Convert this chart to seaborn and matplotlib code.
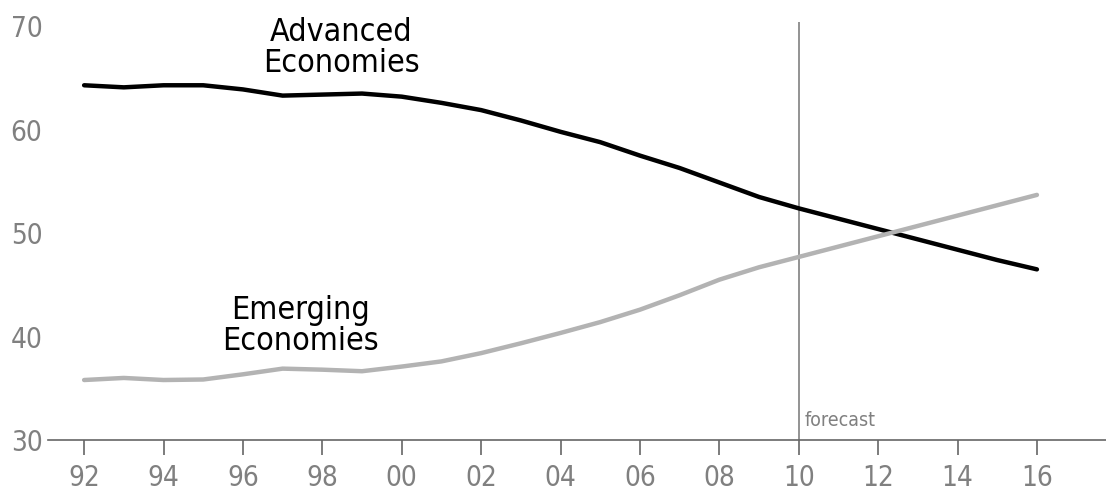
import matplotlib
matplotlib.use('Agg')
import matplotlib.pyplot as plt
import pandas as pd
import seaborn as sns

years = list(range(1992, 2017))
advanced = [64.3, 64.1, 64.3, 64.3, 63.9, 63.3, 63.4, 63.5, 63.2, 62.6, 61.9, 60.9, 59.8,
            58.8, 57.5, 56.3, 54.9, 53.5, 52.4, 51.4, 50.4, 49.4, 48.4, 47.4, 46.5]
emerging = [35.8, 36.0, 35.8, 35.85, 36.35, 36.9, 36.8, 36.65, 37.1, 37.6, 38.4, 39.35, 40.35,
            41.4, 42.6, 44.0, 45.5, 46.7, 47.7, 48.7, 49.7, 50.7, 51.7, 52.7, 53.7]
x_ticks = list(range(1992, 2017, 2))
x_labels = [f'{y % 100:02d}' for y in x_ticks]
y_ticks = [30, 40, 50, 60, 70]

df = pd.DataFrame({
    'year': years * 2,
    'share': advanced + emerging,
    'group': ['Advanced'] * len(years) + ['Emerging'] * len(years),
})

sns.set_style('white')
plt.rcParams['font.family'] = ['DejaVu Sans']
plt.rcParams['font.stretch'] = 'condensed'
plt.rcParams['text.color'] = 'black'

fig = plt.figure(figsize=(11.06, 4.92), dpi=100)
ax = fig.add_axes([0.0434, 0.1057, 0.9566, 0.8513])

sns.lineplot(data=df, x='year', y='share', hue='group',
             palette={'Advanced': '#000000', 'Emerging': '#b3b3b3'},
             linewidth=3.2, legend=False, ax=ax)
for line in ax.lines:
    line.set_solid_capstyle('round')
    line.set_solid_joinstyle('round')

# forecast divider
ax.vlines(2010, 30, 70.4, color='#808080', linewidth=1.2, zorder=1)
ax.text(2010.15, 31.9, 'forecast', color='#808080', fontsize=14, va='center', ha='left',
        stretch='condensed')

ax.text(1998.47, 67.9, 'Advanced\nEconomies', fontsize=23, ha='center', va='center',
        linespacing=1.0, stretch='condensed')
ax.text(1997.44, 41.0, 'Emerging\nEconomies', fontsize=23, ha='center', va='center',
        linespacing=1.0, stretch='condensed')

ax.set_xlim(1991.09, 2017.74)
ax.set_ylim(30, 70.5)
ax.set_xticks(x_ticks)
ax.set_xticklabels(x_labels)
ax.set_yticks(y_ticks)
ax.set_xlabel('')
ax.set_ylabel('')

for side in ['left', 'right', 'top']:
    ax.spines[side].set_visible(False)
ax.spines['bottom'].set_color('#666666')
ax.spines['bottom'].set_linewidth(1.2)
ax.tick_params(axis='x', direction='out', length=11, width=1.2, color='#666666',
               labelcolor='#808080', labelsize=20, pad=6, bottom=True)
ax.tick_params(axis='y', length=0, labelcolor='#808080', labelsize=20, pad=4)

fig.savefig('out.png', dpi=100)
